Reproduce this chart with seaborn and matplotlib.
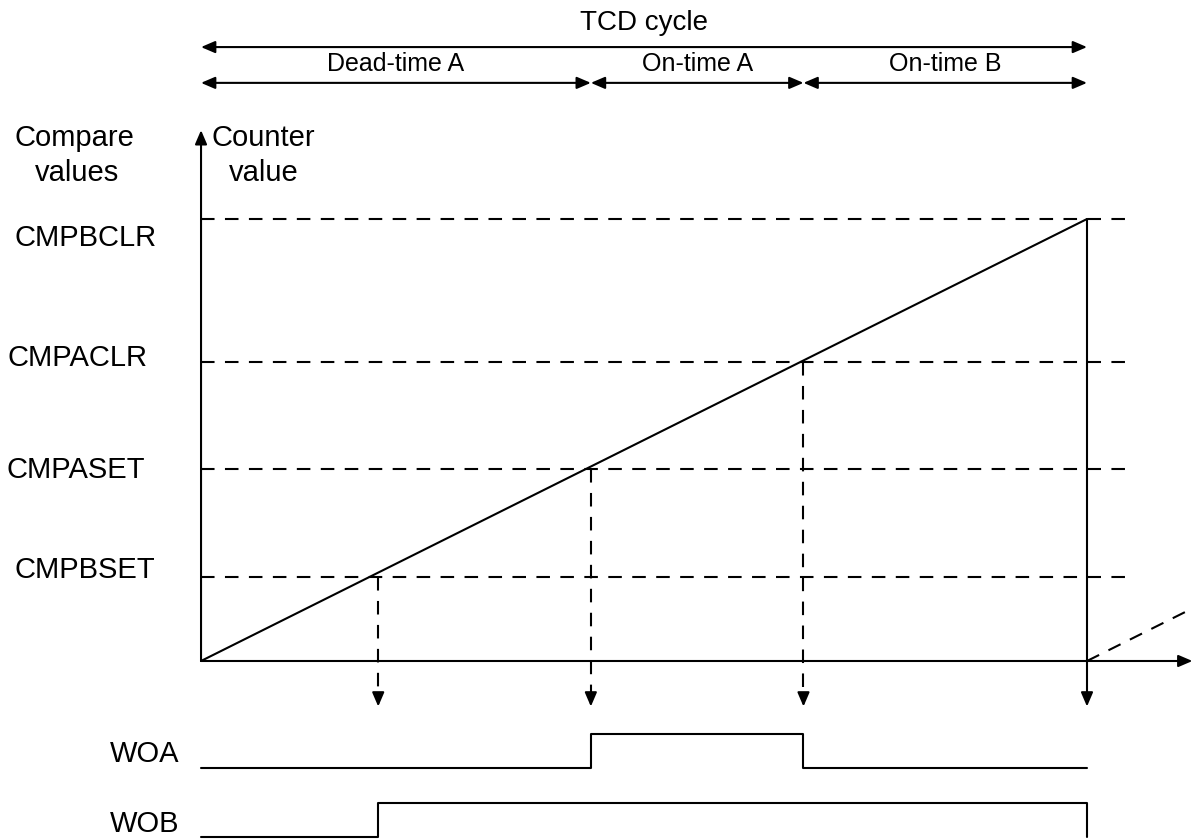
import matplotlib
matplotlib.use("Agg")
import matplotlib.pyplot as plt
import seaborn as sns
import pandas as pd

# ---------------- data ----------------
compare_names = ["CMPBSET", "CMPASET", "CMPACLR", "CMPBCLR"]
compare_values = [19.0, 43.4, 67.6, 100.0]
event_times = [20.0, 44.0, 68.0, 100.0]
ramp_time = [0.0, 100.0]
ramp_counter = [0.0, 100.0]
next_ramp_time = [100.0, 112.0]
next_ramp_counter = [0.0, 12.0]
woa_times = [0.0, 44.0, 68.0, 100.0]
woa_levels = [0, 1, 0, 0]
wob_times = [0.0, 20.0, 100.0, 100.0]
wob_levels = [0, 1, 1, 0]
phase_names = ["Dead-time A", "On-time A", "On-time B"]
phase_bounds = [0.0, 44.0, 68.0, 100.0]
cycle_label = "TCD cycle"
signal_names = ["WOA", "WOB"]

# ---------------- style ----------------
sns.set_theme(style="white")
plt.rcParams["font.family"] = ["Liberation Sans", "DejaVu Sans"]
plt.rcParams["text.color"] = "black"

LW = 1.5
FS = 21
K = "black"

fig = plt.figure(figsize=(11.95, 8.4), dpi=100)
ax = fig.add_axes([0, 0, 1, 1])
ax.set_xlim(-22.69, 112.19)
ax.set_ylim(-40.5, 149.55)
ax.axis("off")

def arrow(x0, y0, x1, y1, style="-|>"):
    ax.annotate("", xy=(x1, y1), xytext=(x0, y0),
                arrowprops=dict(arrowstyle=f"{style},head_length=0.7,head_width=0.3",
                                color=K, lw=LW, shrinkA=0, shrinkB=0,
                                mutation_scale=12))

# axes of the diagram
arrow(0, 0, 0, 120.1)
arrow(0, 0, 111.9, 0)

# compare level lines
for v in compare_values:
    d = pd.DataFrame({"t": [0.0, 104.3], "v": [v, v]})
    sns.lineplot(data=d, x="t", y="v", ax=ax, color=K, lw=LW,
                 estimator=None, sort=False)
    ax.lines[-1].set_dashes([6.5, 5])

# counter ramp
sns.lineplot(x=ramp_time, y=ramp_counter, ax=ax, color=K, lw=LW,
             estimator=None, sort=False)
# next ramp (dashed)
sns.lineplot(x=next_ramp_time, y=next_ramp_counter, ax=ax, color=K, lw=LW,
             estimator=None, sort=False)
ax.lines[-1].set_dashes([6.5, 5])

# drop lines with arrows
tip = -10.3
for i, (t, v) in enumerate(zip(event_times, compare_values)):
    if i < len(event_times) - 1:
        sns.lineplot(x=[t, t], y=[v, -7.6], ax=ax, color=K, lw=LW,
                     estimator=None, sort=False)
        ax.lines[-1].set_dashes([6.5, 5])
        arrow(t, -7.8, t, tip)
    else:
        arrow(t, v, t, tip)

# waveforms
base = {"WOA": -24.2, "WOB": -39.8}
amp = 7.7
for name, times, levels in [("WOA", woa_times, woa_levels),
                            ("WOB", wob_times, wob_levels)]:
    y = [base[name] + amp * l for l in levels]
    sns.lineplot(x=times, y=y, ax=ax, color=K, lw=LW, estimator=None,
                 sort=False, drawstyle="steps-post")

# top cycle arrows
arrow(0, 138.9, 100, 138.9, "<|-|>")
ax.text(50, 144.3, cycle_label, ha="center", va="center", fontsize=20)
for name, a, b in zip(phase_names, phase_bounds[:-1], phase_bounds[1:]):
    arrow(a, 130.8, b, 130.8, "<|-|>")
    ax.text((a + b) / 2, 135.1, name, ha="center", va="center", fontsize=18)

# left labels
ax.text(-14.3, 116.5, "Compare", ha="center", va="baseline", fontsize=FS)
ax.text(-14.0, 108.6, "values", ha="center", va="baseline", fontsize=FS)
ax.text(7.0, 116.5, "Counter", ha="center", va="baseline", fontsize=FS)
ax.text(7.1, 108.6, "value", ha="center", va="baseline", fontsize=FS)

label_base = [18.8, 41.4, 66.7, 93.9]
label_x = [-21.0, -21.9, -21.8, -21.1]
for name, x, y in zip(compare_names, label_x, label_base):
    ax.text(x, y, name, ha="left", va="baseline", fontsize=FS)

ax.text(-2.4, -22.9, signal_names[0], ha="right", va="baseline", fontsize=FS)
ax.text(-2.4, -38.6, signal_names[1], ha="right", va="baseline", fontsize=FS)

fig.savefig("out.png", dpi=100)
